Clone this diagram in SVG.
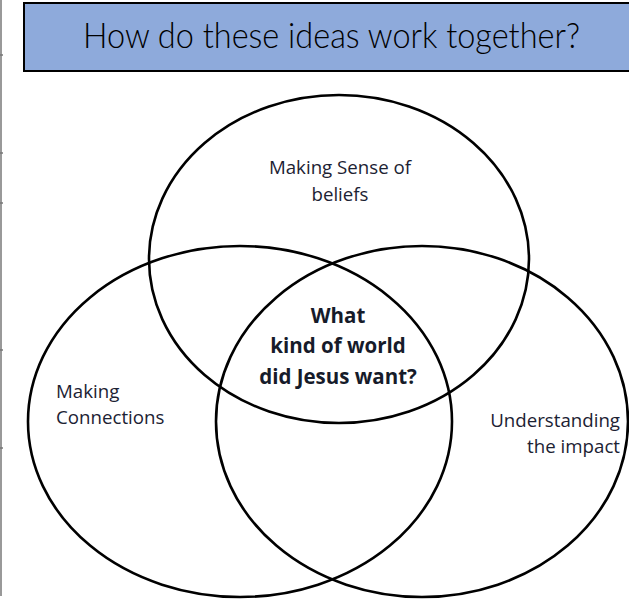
<svg xmlns="http://www.w3.org/2000/svg" width="629" height="600" viewBox="0 0 629 600">
  <style>
    .ring { fill: none; stroke: #000; stroke-width: 2.6; }
    .lbl { font-family: "Open Sans", "Noto Sans", "Liberation Sans", sans-serif; font-size: 18.7px; fill: #1c2233; }
    .core { font-family: "Open Sans", "Noto Sans", "Liberation Sans", sans-serif; font-size: 20.5px; font-weight: bold; fill: #161b2a; text-anchor: middle; }
    .title { font-family: "Lato", "Open Sans", "Liberation Sans", sans-serif; font-size: 35px; font-weight: 300; fill: #000; }
  </style>
  <rect width="629" height="600" fill="#fff"/>
  <g id="page-edge" stroke="#777" stroke-width="1.5">
    <line x1="1" y1="0" x2="1" y2="596"/>
    <line x1="0" y1="55" x2="3" y2="55"/>
    <line x1="0" y1="153" x2="3" y2="153"/>
    <line x1="0" y1="203" x2="3" y2="203"/>
    <line x1="0" y1="350" x2="3" y2="350"/>
    <line x1="0" y1="448" x2="3" y2="448"/>
  </g>
  <g id="title">
    <rect x="24" y="3" width="610" height="68" fill="#8eaadb" stroke="#000" stroke-width="2"/>
    <text class="title" x="83" y="48" textLength="497" lengthAdjust="spacingAndGlyphs">How do these ideas work together?</text>
  </g>
  <g id="connectors"></g>
  <g id="beliefs">
    <ellipse class="ring" cx="339" cy="259" rx="190" ry="164"/>
    <text class="lbl" x="340" y="174" text-anchor="middle">Making Sense of</text>
    <text class="lbl" x="340" y="201" text-anchor="middle">beliefs</text>
  </g>
  <g id="connections">
    <ellipse class="ring" cx="240" cy="421.5" rx="212" ry="175.5"/>
    <text class="lbl" x="56" y="398">Making</text>
    <text class="lbl" x="56" y="424">Connections</text>
  </g>
  <g id="impact">
    <ellipse class="ring" cx="422" cy="421.5" rx="206" ry="175.5"/>
    <text class="lbl" x="620" y="427" text-anchor="end">Understanding</text>
    <text class="lbl" x="620" y="453" text-anchor="end">the impact</text>
  </g>
  <g id="centre">
    <text class="core" x="338" y="323">What</text>
    <text class="core" x="338" y="353">kind of world</text>
    <text class="core" x="338" y="384">did Jesus want?</text>
  </g>
</svg>
